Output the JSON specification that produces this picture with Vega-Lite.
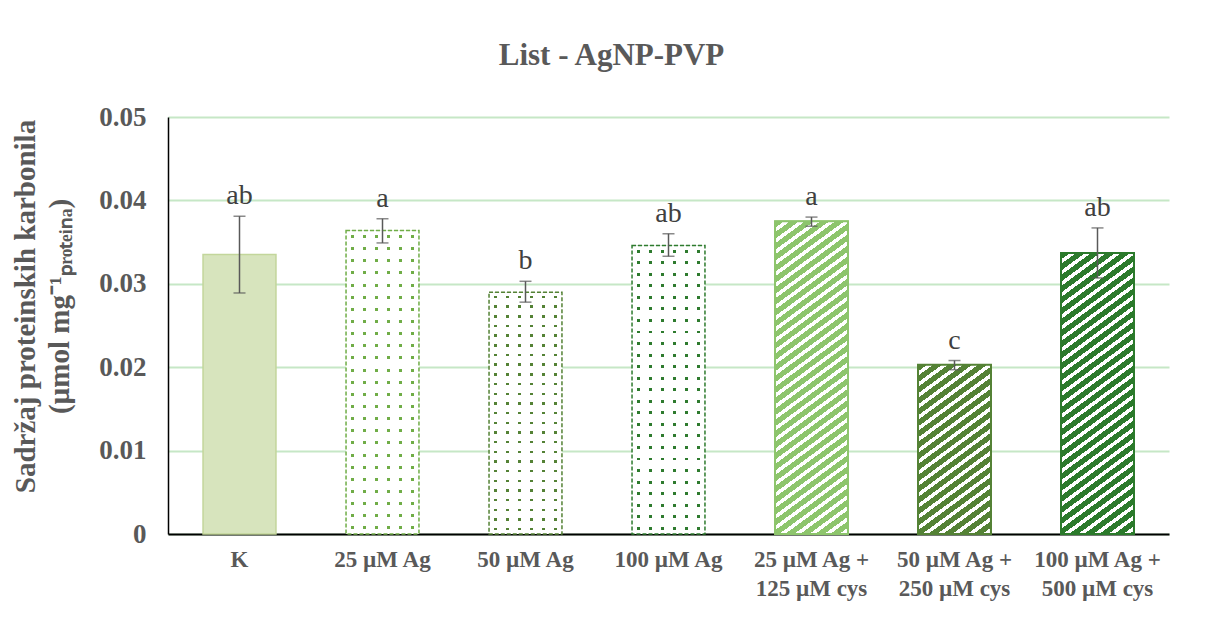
{
"$schema":"https://vega.github.io/schema/vega-lite/v6.json",
"autosize":{"type":"none"},
"width":1001,"height":417,
"padding":{"left":168,"top":117,"right":39,"bottom":90},
"background":"#ffffff",
"config":{"view":{"stroke":null},"font":"Liberation Serif"},
"title":{"text":"List - AgNP-PVP","font":"Liberation Serif","fontSize":31,"fontWeight":"bold","color":"#595959","anchor":"middle","dx":-57,"offset":7,"baseline":"alphabetic"},
"data":{"values":[
{"g":"K","mean":0.0335,"lo":0.0289,"hi":0.0381,"letter":"ab"},
{"g":"25 µM Ag","mean":0.0364,"lo":0.0349,"hi":0.0378,"letter":"a"},
{"g":"50 µM Ag","mean":0.029,"lo":0.0278,"hi":0.0303,"letter":"b"},
{"g":"100 µM Ag","mean":0.0346,"lo":0.0333,"hi":0.036,"letter":"ab"},
{"g":"25 µM Ag +|125 µM cys","mean":0.0375,"lo":0.0369,"hi":0.038,"letter":"a"},
{"g":"50 µM Ag +|250 µM cys","mean":0.0203,"lo":0.0197,"hi":0.0208,"letter":"c"},
{"g":"100 µM Ag +|500 µM cys","mean":0.0337,"lo":0.0307,"hi":0.0367,"letter":"ab"}
]},
"encoding":{"x":{"field":"g","type":"nominal","sort":null,
 "scale":{"domain":["K","25 µM Ag","50 µM Ag","100 µM Ag","25 µM Ag +|125 µM cys","50 µM Ag +|250 µM cys","100 µM Ag +|500 µM cys"],"paddingInner":0.49,"paddingOuter":0.245},
 "axis":{"title":null,"labelExpr":"split(datum.label, '|')","labelFont":"Liberation Serif","labelFontSize":23,"labelFontWeight":"bold","labelColor":"#595959","labelPadding":14,"labelLineHeight":29,"labelAngle":0,"labelBaseline":"top","labelLimit":400,"ticks":false,"domainColor":"#000000","domainWidth":2}}},
"layer":[
{"mark":{"type":"bar","strokeWidth":1.5},
 "encoding":{
  "y":{"field":"mean","type":"quantitative","scale":{"domain":[0,0.05],"nice":false,"zero":true},
   "axis":{"title":["Sadržaj proteinskih karbonila","(µmol mg⁻¹ₚᵣₒₜₑᵢₙₐ)"],"titleFont":"Liberation Serif","titleFontSize":29,"titleFontWeight":"bold","titleColor":"#595959","titleLineHeight":34,"titleAngle":-90,"titleAlign":"center","titleBaseline":"middle","titleX":-143,"titleY":189,
   "values":[0,0.01,0.02,0.03,0.04,0.05],"labelExpr":"datum.value == 0 ? '0' : format(datum.value, '.2f')","labelFont":"Liberation Serif","labelFontSize":27,"labelFontWeight":"bold","labelColor":"#595959","labelPadding":22,"ticks":false,"domainColor":"#000000","domainWidth":1.5,"gridColor":"#c6e7c6","gridWidth":2}},
  "fill":{"field":"g","type":"nominal","scale":{"domain":["K","25 µM Ag","50 µM Ag","100 µM Ag","25 µM Ag +|125 µM cys","50 µM Ag +|250 µM cys","100 µM Ag +|500 µM cys"],"range":["#d7e4bd","#70ad47","#548235","#2e7b2e","#8dc56c","#548235","#2b7a2b"]},"legend":null},
  "stroke":{"field":"g","type":"nominal","scale":{"domain":["K","25 µM Ag","50 µM Ag","100 µM Ag","25 µM Ag +|125 µM cys","50 µM Ag +|250 µM cys","100 µM Ag +|500 µM cys"],"range":["#c3d69b","#70ad47","#548235","#2e7b2e","#8dc56c","#548235","#2b7a2b"]},"legend":null},
  "strokeOpacity":{"condition":{"test":"indexof(['25 µM Ag','50 µM Ag','100 µM Ag'], datum.g) >= 0","value":0},"value":1}
 }},
{"transform":[{"filter":{"field":"g","oneOf":["25 µM Ag","50 µM Ag","100 µM Ag"]}}],
 "mark":{"type":"bar","fill":{"gradient":"linear","x1":0,"y1":0,"x2":1,"y2":0,"stops":[
{"offset":0,"color":"#fff"},{"offset":0.063,"color":"#fff"},{"offset":0.063,"color":"#fff0"},{"offset":0.103,"color":"#fff0"},{"offset":0.103,"color":"#fff"},
{"offset":0.23,"color":"#fff"},{"offset":0.23,"color":"#fff0"},{"offset":0.27,"color":"#fff0"},{"offset":0.27,"color":"#fff"},
{"offset":0.397,"color":"#fff"},{"offset":0.397,"color":"#fff0"},{"offset":0.437,"color":"#fff0"},{"offset":0.437,"color":"#fff"},
{"offset":0.563,"color":"#fff"},{"offset":0.563,"color":"#fff0"},{"offset":0.603,"color":"#fff0"},{"offset":0.603,"color":"#fff"},
{"offset":0.73,"color":"#fff"},{"offset":0.73,"color":"#fff0"},{"offset":0.77,"color":"#fff0"},{"offset":0.77,"color":"#fff"},
{"offset":0.897,"color":"#fff"},{"offset":0.897,"color":"#fff0"},{"offset":0.937,"color":"#fff0"},{"offset":0.937,"color":"#fff"},{"offset":1,"color":"#fff"}]}},
 "encoding":{"y":{"field":"mean","type":"quantitative"}}},
{"transform":[{"filter":{"field":"g","oneOf":["25 µM Ag","50 µM Ag","100 µM Ag"]}}],
 "mark":{"type":"bar","strokeWidth":1.5,"strokeDash":[4,2],"fill":{"gradient":"linear","x1":0,"y1":0,"x2":0,"y2":1,"stops":[
{"offset":0,"color":"#fff"},{"offset":0.015,"color":"#fff"},{"offset":0.015,"color":"#fff0"},{"offset":0.025,"color":"#fff0"},{"offset":0.025,"color":"#fff"},
{"offset":0.055,"color":"#fff"},{"offset":0.055,"color":"#fff0"},{"offset":0.065,"color":"#fff0"},{"offset":0.065,"color":"#fff"},
{"offset":0.095,"color":"#fff"},{"offset":0.095,"color":"#fff0"},{"offset":0.105,"color":"#fff0"},{"offset":0.105,"color":"#fff"},
{"offset":0.135,"color":"#fff"},{"offset":0.135,"color":"#fff0"},{"offset":0.145,"color":"#fff0"},{"offset":0.145,"color":"#fff"},
{"offset":0.175,"color":"#fff"},{"offset":0.175,"color":"#fff0"},{"offset":0.185,"color":"#fff0"},{"offset":0.185,"color":"#fff"},
{"offset":0.215,"color":"#fff"},{"offset":0.215,"color":"#fff0"},{"offset":0.225,"color":"#fff0"},{"offset":0.225,"color":"#fff"},
{"offset":0.255,"color":"#fff"},{"offset":0.255,"color":"#fff0"},{"offset":0.265,"color":"#fff0"},{"offset":0.265,"color":"#fff"},
{"offset":0.295,"color":"#fff"},{"offset":0.295,"color":"#fff0"},{"offset":0.305,"color":"#fff0"},{"offset":0.305,"color":"#fff"},
{"offset":0.335,"color":"#fff"},{"offset":0.335,"color":"#fff0"},{"offset":0.345,"color":"#fff0"},{"offset":0.345,"color":"#fff"},
{"offset":0.375,"color":"#fff"},{"offset":0.375,"color":"#fff0"},{"offset":0.385,"color":"#fff0"},{"offset":0.385,"color":"#fff"},
{"offset":0.415,"color":"#fff"},{"offset":0.415,"color":"#fff0"},{"offset":0.425,"color":"#fff0"},{"offset":0.425,"color":"#fff"},
{"offset":0.455,"color":"#fff"},{"offset":0.455,"color":"#fff0"},{"offset":0.465,"color":"#fff0"},{"offset":0.465,"color":"#fff"},
{"offset":0.495,"color":"#fff"},{"offset":0.495,"color":"#fff0"},{"offset":0.505,"color":"#fff0"},{"offset":0.505,"color":"#fff"},
{"offset":0.535,"color":"#fff"},{"offset":0.535,"color":"#fff0"},{"offset":0.545,"color":"#fff0"},{"offset":0.545,"color":"#fff"},
{"offset":0.575,"color":"#fff"},{"offset":0.575,"color":"#fff0"},{"offset":0.585,"color":"#fff0"},{"offset":0.585,"color":"#fff"},
{"offset":0.615,"color":"#fff"},{"offset":0.615,"color":"#fff0"},{"offset":0.625,"color":"#fff0"},{"offset":0.625,"color":"#fff"},
{"offset":0.655,"color":"#fff"},{"offset":0.655,"color":"#fff0"},{"offset":0.665,"color":"#fff0"},{"offset":0.665,"color":"#fff"},
{"offset":0.695,"color":"#fff"},{"offset":0.695,"color":"#fff0"},{"offset":0.705,"color":"#fff0"},{"offset":0.705,"color":"#fff"},
{"offset":0.735,"color":"#fff"},{"offset":0.735,"color":"#fff0"},{"offset":0.745,"color":"#fff0"},{"offset":0.745,"color":"#fff"},
{"offset":0.775,"color":"#fff"},{"offset":0.775,"color":"#fff0"},{"offset":0.785,"color":"#fff0"},{"offset":0.785,"color":"#fff"},
{"offset":0.815,"color":"#fff"},{"offset":0.815,"color":"#fff0"},{"offset":0.825,"color":"#fff0"},{"offset":0.825,"color":"#fff"},
{"offset":0.855,"color":"#fff"},{"offset":0.855,"color":"#fff0"},{"offset":0.865,"color":"#fff0"},{"offset":0.865,"color":"#fff"},
{"offset":0.895,"color":"#fff"},{"offset":0.895,"color":"#fff0"},{"offset":0.905,"color":"#fff0"},{"offset":0.905,"color":"#fff"},
{"offset":0.935,"color":"#fff"},{"offset":0.935,"color":"#fff0"},{"offset":0.945,"color":"#fff0"},{"offset":0.945,"color":"#fff"},
{"offset":0.975,"color":"#fff"},{"offset":0.975,"color":"#fff0"},{"offset":0.985,"color":"#fff0"},{"offset":0.985,"color":"#fff"},{"offset":1,"color":"#fff"}]}},
 "encoding":{"y":{"field":"mean","type":"quantitative"},
  "stroke":{"field":"g","type":"nominal","scale":{"domain":["K","25 µM Ag","50 µM Ag","100 µM Ag","25 µM Ag +|125 µM cys","50 µM Ag +|250 µM cys","100 µM Ag +|500 µM cys"],"range":["#c3d69b","#70ad47","#548235","#2e7b2e","#8dc56c","#548235","#2b7a2b"]},"legend":null}}},
{"transform":[{"filter":{"field":"g","equal":"25 µM Ag +|125 µM cys"}}],
 "mark":{"type":"bar","stroke":"#8dc56c","strokeWidth":2,"fill":{"gradient":"linear","x1":0,"y1":0,"x2":0.2344,"y2":1.3716,"stops":[
{"offset":0,"color":"#fff0"},{"offset":0.015,"color":"#fff0"},{"offset":0.015,"color":"#fff"},{"offset":0.025,"color":"#fff"},
{"offset":0.025,"color":"#fff0"},{"offset":0.04,"color":"#fff0"},{"offset":0.04,"color":"#fff"},{"offset":0.05,"color":"#fff"},
{"offset":0.05,"color":"#fff0"},{"offset":0.065,"color":"#fff0"},{"offset":0.065,"color":"#fff"},{"offset":0.075,"color":"#fff"},
{"offset":0.075,"color":"#fff0"},{"offset":0.09,"color":"#fff0"},{"offset":0.09,"color":"#fff"},{"offset":0.1,"color":"#fff"},
{"offset":0.1,"color":"#fff0"},{"offset":0.115,"color":"#fff0"},{"offset":0.115,"color":"#fff"},{"offset":0.125,"color":"#fff"},
{"offset":0.125,"color":"#fff0"},{"offset":0.14,"color":"#fff0"},{"offset":0.14,"color":"#fff"},{"offset":0.15,"color":"#fff"},
{"offset":0.15,"color":"#fff0"},{"offset":0.165,"color":"#fff0"},{"offset":0.165,"color":"#fff"},{"offset":0.175,"color":"#fff"},
{"offset":0.175,"color":"#fff0"},{"offset":0.19,"color":"#fff0"},{"offset":0.19,"color":"#fff"},{"offset":0.2,"color":"#fff"},
{"offset":0.2,"color":"#fff0"},{"offset":0.215,"color":"#fff0"},{"offset":0.215,"color":"#fff"},{"offset":0.225,"color":"#fff"},
{"offset":0.225,"color":"#fff0"},{"offset":0.24,"color":"#fff0"},{"offset":0.24,"color":"#fff"},{"offset":0.25,"color":"#fff"},
{"offset":0.25,"color":"#fff0"},{"offset":0.265,"color":"#fff0"},{"offset":0.265,"color":"#fff"},{"offset":0.275,"color":"#fff"},
{"offset":0.275,"color":"#fff0"},{"offset":0.29,"color":"#fff0"},{"offset":0.29,"color":"#fff"},{"offset":0.3,"color":"#fff"},
{"offset":0.3,"color":"#fff0"},{"offset":0.315,"color":"#fff0"},{"offset":0.315,"color":"#fff"},{"offset":0.325,"color":"#fff"},
{"offset":0.325,"color":"#fff0"},{"offset":0.34,"color":"#fff0"},{"offset":0.34,"color":"#fff"},{"offset":0.35,"color":"#fff"},
{"offset":0.35,"color":"#fff0"},{"offset":0.365,"color":"#fff0"},{"offset":0.365,"color":"#fff"},{"offset":0.375,"color":"#fff"},
{"offset":0.375,"color":"#fff0"},{"offset":0.39,"color":"#fff0"},{"offset":0.39,"color":"#fff"},{"offset":0.4,"color":"#fff"},
{"offset":0.4,"color":"#fff0"},{"offset":0.415,"color":"#fff0"},{"offset":0.415,"color":"#fff"},{"offset":0.425,"color":"#fff"},
{"offset":0.425,"color":"#fff0"},{"offset":0.44,"color":"#fff0"},{"offset":0.44,"color":"#fff"},{"offset":0.45,"color":"#fff"},
{"offset":0.45,"color":"#fff0"},{"offset":0.465,"color":"#fff0"},{"offset":0.465,"color":"#fff"},{"offset":0.475,"color":"#fff"},
{"offset":0.475,"color":"#fff0"},{"offset":0.49,"color":"#fff0"},{"offset":0.49,"color":"#fff"},{"offset":0.5,"color":"#fff"},
{"offset":0.5,"color":"#fff0"},{"offset":0.515,"color":"#fff0"},{"offset":0.515,"color":"#fff"},{"offset":0.525,"color":"#fff"},
{"offset":0.525,"color":"#fff0"},{"offset":0.54,"color":"#fff0"},{"offset":0.54,"color":"#fff"},{"offset":0.55,"color":"#fff"},
{"offset":0.55,"color":"#fff0"},{"offset":0.565,"color":"#fff0"},{"offset":0.565,"color":"#fff"},{"offset":0.575,"color":"#fff"},
{"offset":0.575,"color":"#fff0"},{"offset":0.59,"color":"#fff0"},{"offset":0.59,"color":"#fff"},{"offset":0.6,"color":"#fff"},
{"offset":0.6,"color":"#fff0"},{"offset":0.615,"color":"#fff0"},{"offset":0.615,"color":"#fff"},{"offset":0.625,"color":"#fff"},
{"offset":0.625,"color":"#fff0"},{"offset":0.64,"color":"#fff0"},{"offset":0.64,"color":"#fff"},{"offset":0.65,"color":"#fff"},
{"offset":0.65,"color":"#fff0"},{"offset":0.665,"color":"#fff0"},{"offset":0.665,"color":"#fff"},{"offset":0.675,"color":"#fff"},
{"offset":0.675,"color":"#fff0"},{"offset":0.69,"color":"#fff0"},{"offset":0.69,"color":"#fff"},{"offset":0.7,"color":"#fff"},
{"offset":0.7,"color":"#fff0"},{"offset":0.715,"color":"#fff0"},{"offset":0.715,"color":"#fff"},{"offset":0.725,"color":"#fff"},
{"offset":0.725,"color":"#fff0"},{"offset":0.74,"color":"#fff0"},{"offset":0.74,"color":"#fff"},{"offset":0.75,"color":"#fff"},
{"offset":0.75,"color":"#fff0"},{"offset":0.765,"color":"#fff0"},{"offset":0.765,"color":"#fff"},{"offset":0.775,"color":"#fff"},
{"offset":0.775,"color":"#fff0"},{"offset":0.79,"color":"#fff0"},{"offset":0.79,"color":"#fff"},{"offset":0.8,"color":"#fff"},
{"offset":0.8,"color":"#fff0"},{"offset":0.815,"color":"#fff0"},{"offset":0.815,"color":"#fff"},{"offset":0.825,"color":"#fff"},
{"offset":0.825,"color":"#fff0"},{"offset":0.84,"color":"#fff0"},{"offset":0.84,"color":"#fff"},{"offset":0.85,"color":"#fff"}]}},
 "encoding":{"y":{"field":"mean","type":"quantitative"}}},
{"transform":[{"filter":{"field":"g","equal":"50 µM Ag +|250 µM cys"}}],
 "mark":{"type":"bar","stroke":"#548235","strokeWidth":2,"fill":{"gradient":"linear","x1":0,"y1":0,"x2":0.7489,"y2":2.3717,"stops":[
{"offset":0,"color":"#fff0"},{"offset":0.015,"color":"#fff0"},{"offset":0.015,"color":"#fff"},{"offset":0.025,"color":"#fff"},
{"offset":0.025,"color":"#fff0"},{"offset":0.04,"color":"#fff0"},{"offset":0.04,"color":"#fff"},{"offset":0.05,"color":"#fff"},
{"offset":0.05,"color":"#fff0"},{"offset":0.065,"color":"#fff0"},{"offset":0.065,"color":"#fff"},{"offset":0.075,"color":"#fff"},
{"offset":0.075,"color":"#fff0"},{"offset":0.09,"color":"#fff0"},{"offset":0.09,"color":"#fff"},{"offset":0.1,"color":"#fff"},
{"offset":0.1,"color":"#fff0"},{"offset":0.115,"color":"#fff0"},{"offset":0.115,"color":"#fff"},{"offset":0.125,"color":"#fff"},
{"offset":0.125,"color":"#fff0"},{"offset":0.14,"color":"#fff0"},{"offset":0.14,"color":"#fff"},{"offset":0.15,"color":"#fff"},
{"offset":0.15,"color":"#fff0"},{"offset":0.165,"color":"#fff0"},{"offset":0.165,"color":"#fff"},{"offset":0.175,"color":"#fff"},
{"offset":0.175,"color":"#fff0"},{"offset":0.19,"color":"#fff0"},{"offset":0.19,"color":"#fff"},{"offset":0.2,"color":"#fff"},
{"offset":0.2,"color":"#fff0"},{"offset":0.215,"color":"#fff0"},{"offset":0.215,"color":"#fff"},{"offset":0.225,"color":"#fff"},
{"offset":0.225,"color":"#fff0"},{"offset":0.24,"color":"#fff0"},{"offset":0.24,"color":"#fff"},{"offset":0.25,"color":"#fff"},
{"offset":0.25,"color":"#fff0"},{"offset":0.265,"color":"#fff0"},{"offset":0.265,"color":"#fff"},{"offset":0.275,"color":"#fff"},
{"offset":0.275,"color":"#fff0"},{"offset":0.29,"color":"#fff0"},{"offset":0.29,"color":"#fff"},{"offset":0.3,"color":"#fff"},
{"offset":0.3,"color":"#fff0"},{"offset":0.315,"color":"#fff0"},{"offset":0.315,"color":"#fff"},{"offset":0.325,"color":"#fff"},
{"offset":0.325,"color":"#fff0"},{"offset":0.34,"color":"#fff0"},{"offset":0.34,"color":"#fff"},{"offset":0.35,"color":"#fff"},
{"offset":0.35,"color":"#fff0"},{"offset":0.365,"color":"#fff0"},{"offset":0.365,"color":"#fff"},{"offset":0.375,"color":"#fff"},
{"offset":0.375,"color":"#fff0"},{"offset":0.39,"color":"#fff0"},{"offset":0.39,"color":"#fff"},{"offset":0.4,"color":"#fff"},
{"offset":0.4,"color":"#fff0"},{"offset":0.415,"color":"#fff0"},{"offset":0.415,"color":"#fff"},{"offset":0.425,"color":"#fff"},
{"offset":0.425,"color":"#fff0"},{"offset":0.44,"color":"#fff0"},{"offset":0.44,"color":"#fff"},{"offset":0.45,"color":"#fff"},
{"offset":0.45,"color":"#fff0"},{"offset":0.465,"color":"#fff0"},{"offset":0.465,"color":"#fff"},{"offset":0.475,"color":"#fff"},
{"offset":0.475,"color":"#fff0"},{"offset":0.49,"color":"#fff0"},{"offset":0.49,"color":"#fff"},{"offset":0.5,"color":"#fff"},
{"offset":0.5,"color":"#fff0"},{"offset":0.515,"color":"#fff0"},{"offset":0.515,"color":"#fff"},{"offset":0.525,"color":"#fff"}]}},
 "encoding":{"y":{"field":"mean","type":"quantitative"}}},
{"transform":[{"filter":{"field":"g","equal":"100 µM Ag +|500 µM cys"}}],
 "mark":{"type":"bar","stroke":"#2b7a2b","strokeWidth":2,"fill":{"gradient":"linear","x1":0,"y1":0,"x2":0.2882,"y2":1.5156,"stops":[
{"offset":0,"color":"#fff0"},{"offset":0.015,"color":"#fff0"},{"offset":0.015,"color":"#fff"},{"offset":0.025,"color":"#fff"},
{"offset":0.025,"color":"#fff0"},{"offset":0.04,"color":"#fff0"},{"offset":0.04,"color":"#fff"},{"offset":0.05,"color":"#fff"},
{"offset":0.05,"color":"#fff0"},{"offset":0.065,"color":"#fff0"},{"offset":0.065,"color":"#fff"},{"offset":0.075,"color":"#fff"},
{"offset":0.075,"color":"#fff0"},{"offset":0.09,"color":"#fff0"},{"offset":0.09,"color":"#fff"},{"offset":0.1,"color":"#fff"},
{"offset":0.1,"color":"#fff0"},{"offset":0.115,"color":"#fff0"},{"offset":0.115,"color":"#fff"},{"offset":0.125,"color":"#fff"},
{"offset":0.125,"color":"#fff0"},{"offset":0.14,"color":"#fff0"},{"offset":0.14,"color":"#fff"},{"offset":0.15,"color":"#fff"},
{"offset":0.15,"color":"#fff0"},{"offset":0.165,"color":"#fff0"},{"offset":0.165,"color":"#fff"},{"offset":0.175,"color":"#fff"},
{"offset":0.175,"color":"#fff0"},{"offset":0.19,"color":"#fff0"},{"offset":0.19,"color":"#fff"},{"offset":0.2,"color":"#fff"},
{"offset":0.2,"color":"#fff0"},{"offset":0.215,"color":"#fff0"},{"offset":0.215,"color":"#fff"},{"offset":0.225,"color":"#fff"},
{"offset":0.225,"color":"#fff0"},{"offset":0.24,"color":"#fff0"},{"offset":0.24,"color":"#fff"},{"offset":0.25,"color":"#fff"},
{"offset":0.25,"color":"#fff0"},{"offset":0.265,"color":"#fff0"},{"offset":0.265,"color":"#fff"},{"offset":0.275,"color":"#fff"},
{"offset":0.275,"color":"#fff0"},{"offset":0.29,"color":"#fff0"},{"offset":0.29,"color":"#fff"},{"offset":0.3,"color":"#fff"},
{"offset":0.3,"color":"#fff0"},{"offset":0.315,"color":"#fff0"},{"offset":0.315,"color":"#fff"},{"offset":0.325,"color":"#fff"},
{"offset":0.325,"color":"#fff0"},{"offset":0.34,"color":"#fff0"},{"offset":0.34,"color":"#fff"},{"offset":0.35,"color":"#fff"},
{"offset":0.35,"color":"#fff0"},{"offset":0.365,"color":"#fff0"},{"offset":0.365,"color":"#fff"},{"offset":0.375,"color":"#fff"},
{"offset":0.375,"color":"#fff0"},{"offset":0.39,"color":"#fff0"},{"offset":0.39,"color":"#fff"},{"offset":0.4,"color":"#fff"},
{"offset":0.4,"color":"#fff0"},{"offset":0.415,"color":"#fff0"},{"offset":0.415,"color":"#fff"},{"offset":0.425,"color":"#fff"},
{"offset":0.425,"color":"#fff0"},{"offset":0.44,"color":"#fff0"},{"offset":0.44,"color":"#fff"},{"offset":0.45,"color":"#fff"},
{"offset":0.45,"color":"#fff0"},{"offset":0.465,"color":"#fff0"},{"offset":0.465,"color":"#fff"},{"offset":0.475,"color":"#fff"},
{"offset":0.475,"color":"#fff0"},{"offset":0.49,"color":"#fff0"},{"offset":0.49,"color":"#fff"},{"offset":0.5,"color":"#fff"},
{"offset":0.5,"color":"#fff0"},{"offset":0.515,"color":"#fff0"},{"offset":0.515,"color":"#fff"},{"offset":0.525,"color":"#fff"},
{"offset":0.525,"color":"#fff0"},{"offset":0.54,"color":"#fff0"},{"offset":0.54,"color":"#fff"},{"offset":0.55,"color":"#fff"},
{"offset":0.55,"color":"#fff0"},{"offset":0.565,"color":"#fff0"},{"offset":0.565,"color":"#fff"},{"offset":0.575,"color":"#fff"},
{"offset":0.575,"color":"#fff0"},{"offset":0.59,"color":"#fff0"},{"offset":0.59,"color":"#fff"},{"offset":0.6,"color":"#fff"},
{"offset":0.6,"color":"#fff0"},{"offset":0.615,"color":"#fff0"},{"offset":0.615,"color":"#fff"},{"offset":0.625,"color":"#fff"},
{"offset":0.625,"color":"#fff0"},{"offset":0.64,"color":"#fff0"},{"offset":0.64,"color":"#fff"},{"offset":0.65,"color":"#fff"},
{"offset":0.65,"color":"#fff0"},{"offset":0.665,"color":"#fff0"},{"offset":0.665,"color":"#fff"},{"offset":0.675,"color":"#fff"},
{"offset":0.675,"color":"#fff0"},{"offset":0.69,"color":"#fff0"},{"offset":0.69,"color":"#fff"},{"offset":0.7,"color":"#fff"},
{"offset":0.7,"color":"#fff0"},{"offset":0.715,"color":"#fff0"},{"offset":0.715,"color":"#fff"},{"offset":0.725,"color":"#fff"},
{"offset":0.725,"color":"#fff0"},{"offset":0.74,"color":"#fff0"},{"offset":0.74,"color":"#fff"},{"offset":0.75,"color":"#fff"},
{"offset":0.75,"color":"#fff0"},{"offset":0.765,"color":"#fff0"},{"offset":0.765,"color":"#fff"},{"offset":0.775,"color":"#fff"}]}},
 "encoding":{"y":{"field":"mean","type":"quantitative"}}},
{"mark":{"type":"rule","color":"#595959","strokeWidth":1.5},
 "encoding":{"y":{"field":"lo","type":"quantitative"},"y2":{"field":"hi"}}},
{"mark":{"type":"tick","color":"#595959","size":12,"thickness":1.5},
 "encoding":{"y":{"field":"lo","type":"quantitative"}}},
{"mark":{"type":"tick","color":"#595959","size":12,"thickness":1.5},
 "encoding":{"y":{"field":"hi","type":"quantitative"}}},
{"mark":{"type":"text","font":"Liberation Serif","fontSize":28,"color":"#404040","baseline":"alphabetic","dy":-12},
 "encoding":{"y":{"field":"hi","type":"quantitative"},"text":{"field":"letter"}}}
]
}
